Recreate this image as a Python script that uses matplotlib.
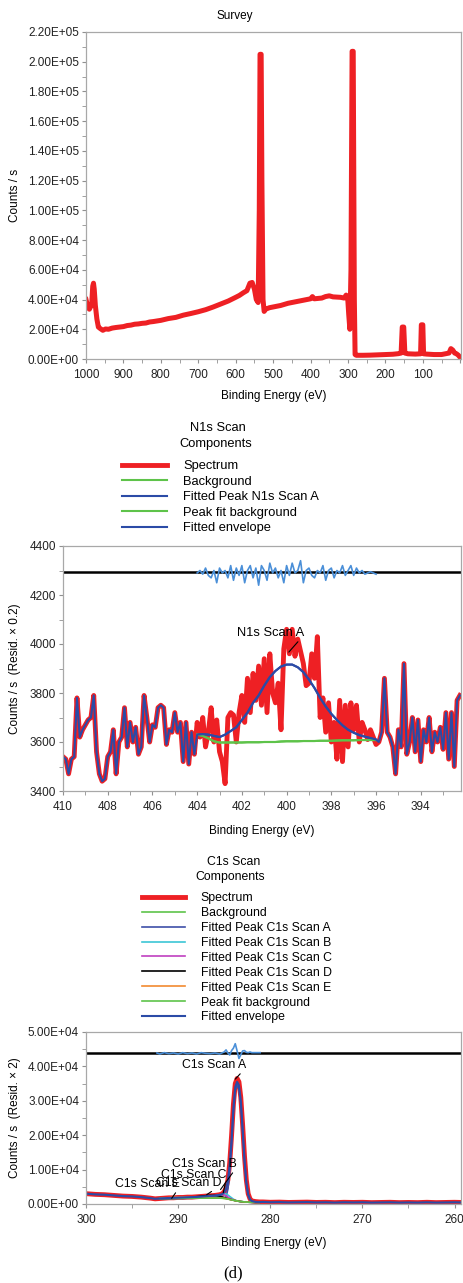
import matplotlib

matplotlib.use("Agg")
import matplotlib.pyplot as plt
import numpy as np
from matplotlib.ticker import MultipleLocator, FuncFormatter

plt.rcParams["font.family"] = ["Liberation Sans", "DejaVu Sans"]
plt.rcParams["font.size"] = 8.5

RED = "#ee2024"
GREEN = "#5ec34a"
ENV = "#2b4ba6"
RESID = "#4a8fd8"
CYAN = "#3cc6d6"
MAGENTA = "#c03fc0"
ORANGE = "#f28a30"

# ---------------- Survey ----------------
survey_be = [1000, 997, 994, 991, 988, 985, 982, 980, 978, 975, 971, 967, 962, 955, 948,
             940, 930, 920, 910, 900, 890, 880, 870, 860, 850, 840, 830, 820, 800, 780,
             760, 740, 720, 700, 680, 660, 640, 620, 600, 590, 580, 570, 562, 556, 550,
             545, 540, 537, 535, 532, 530, 527, 524, 520, 510, 500, 480, 460, 440, 420,
             400, 395, 390, 370, 360, 350, 340, 320, 310, 305, 301, 298, 295, 292, 289,
             286, 283, 281, 278, 260, 240, 220, 200, 180, 165, 158, 155, 151, 148, 140,
             120, 106, 104, 100, 98, 90, 70, 50, 40, 30, 25, 20, 15, 10, 5, 0, -2]
survey_cps = [40000, 37000, 34500, 33500, 35000, 36000, 49000, 51000, 47000, 36000, 27000,
              21500, 20500, 19300, 20200, 20000, 20800, 21200, 21500, 21800, 22500, 22800,
              23400, 23600, 24000, 24200, 24900, 25200, 26000, 27200, 28000, 29500, 30600,
              31800, 33200, 35000, 37000, 39000, 41500, 42800, 44500, 46000, 51000, 51500,
              47000, 40000, 38000, 100000, 205000, 205000, 120000, 40000, 32000, 33500,
              34500, 35000, 36000, 37500, 38500, 39500, 40500, 42000, 40500, 41000, 42000,
              42500, 41800, 41500, 41000, 43000, 42000, 30000, 20000, 60000, 207000,
              207000, 40000, 3000, 2500, 2500, 2600, 2800, 3000, 3200, 3600, 4000, 21500,
              21500, 4000, 3500, 3300, 3500, 23000, 23000, 3500, 3300, 3000, 3000, 3500,
              4000, 7000, 6000, 4000, 3500, 2500, 1000, 0]

# ---------------- N1s ----------------
n1s_cps = [3540, 3530, 3470, 3530, 3540, 3780, 3620, 3650, 3670, 3690,
           3700, 3790, 3560, 3470, 3440, 3450, 3540, 3560, 3650, 3470,
           3600, 3620, 3740, 3580, 3680, 3600, 3660, 3550, 3580, 3790,
           3700, 3600, 3670, 3660, 3740, 3750, 3740, 3590, 3650, 3640,
           3720, 3640, 3680, 3520, 3680, 3510, 3640, 3550, 3680,
           3620, 3700, 3580, 3640, 3740, 3600, 3690, 3560, 3520, 3430,
           3700, 3720, 3710, 3600, 3720, 3790, 3680, 3860, 3720, 3880,
           3770, 3910, 3750, 3940, 3720, 3960, 3800, 3760, 3840, 3650,
           3980, 4060, 3960, 4060, 3950, 4020, 3970, 3920, 3830, 3840,
           3960, 3860, 4030, 3700, 3780, 3640, 3760, 3600, 3680, 3530,
           3770, 3520, 3750, 3580, 3760, 3650, 3750, 3600, 3680, 3650,
           3610, 3650, 3620, 3590,
           3600, 3640, 3860, 3640, 3620, 3580, 3470, 3650, 3580, 3920,
           3550, 3600, 3700, 3560, 3690, 3520, 3650, 3600, 3700, 3560,
           3640, 3600, 3660, 3570, 3720, 3530, 3720, 3500, 3770, 3790]
n1s_be = np.linspace(410.0, 392.25, len(n1s_cps))

n1s_fit_be = [404.0, 403.75, 403.5, 403.25, 403.0, 402.75, 402.5, 402.25, 402.0, 401.75,
              401.5, 401.25, 401.0, 400.75, 400.5, 400.25, 400.0, 399.75, 399.5, 399.25,
              399.0, 398.75, 398.5, 398.25, 398.0, 397.75, 397.5, 397.25, 397.0, 396.75,
              396.5, 396.25, 396.0]
n1s_envelope = [3630, 3632, 3630, 3625, 3620, 3630, 3645, 3660, 3690, 3720,
                3760, 3790, 3830, 3865, 3890, 3908, 3916, 3916, 3905, 3885,
                3855, 3820, 3780, 3745, 3715, 3690, 3668, 3650, 3638, 3628,
                3622, 3616, 3610]
n1s_background = [3630, 3625, 3615, 3603, 3598, 3598, 3598, 3598, 3598, 3599,
                  3599, 3599, 3600, 3600, 3600, 3602, 3603, 3603, 3603, 3604,
                  3604, 3604, 3605, 3605, 3605, 3606, 3607, 3607, 3607, 3608,
                  3608, 3608, 3608]
n1s_resid = [4290, 4300, 4285, 4310, 4280, 4270, 4300, 4250, 4310, 4290,
             4300, 4270, 4320, 4260, 4310, 4280, 4320, 4250, 4300, 4320,
             4270, 4310, 4240, 4320, 4300, 4260, 4330, 4290, 4310, 4270,
             4300, 4250, 4320, 4280, 4330, 4290, 4300, 4340, 4250, 4300,
             4310, 4280, 4270, 4300, 4290, 4320, 4260, 4300, 4310, 4270,
             4300, 4290, 4320, 4280, 4300, 4320, 4280, 4310, 4290, 4300,
             4285, 4290, 4295, 4290, 4285]
n1s_resid_be = np.linspace(404.0, 396.0, len(n1s_resid))
n1s_resid_zero = 4292

# ---------------- C1s ----------------
c1s_be = [300, 299, 298, 297, 296, 295, 294, 293, 292.5, 292, 291.5, 291, 290.5, 290,
          289.5, 289, 288.5, 288, 287.5, 287, 286.5, 286, 285.5, 285.2, 285, 284.8,
          284.6, 284.4, 284.2, 284.0, 283.8, 283.6, 283.4, 283.2, 283.0, 282.8, 282.6,
          282.4, 282.2, 282.0, 281.6, 281.2, 280.8, 280, 279, 278, 277, 276, 275, 274,
          273, 272, 271, 270, 269, 268, 267, 266, 265, 264, 263, 262, 261, 260, 259.3]
c1s_cps = [3000, 2800, 2700, 2500, 2300, 2200, 2000, 1700, 1500, 1600, 1700, 1800, 1800,
           1900, 1900, 2000, 2000, 2100, 2200, 2300, 2400, 2500, 2700, 3000, 3600, 4600,
           7000, 12000, 20000, 29000, 35000, 36500, 35500, 31000, 23000, 14000, 7000,
           3000, 1500, 900, 700, 600, 600, 500, 550, 450, 500, 550, 450, 500, 400, 500,
           450, 500, 400, 450, 500, 400, 450, 400, 500, 400, 450, 500, 450]

c1s_fit_be = [292, 291.5, 291, 290.5, 290, 289.5, 289, 288.5, 288, 287.5, 287, 286.5, 286,
              285.5, 285.2, 285, 284.8, 284.6, 284.4, 284.2, 284, 283.8, 283.6, 283.4,
              283.2, 283, 282.8, 282.6, 282.4, 282.2, 282, 281.6, 281.2]
c1s_background = [1600, 1610, 1620, 1640, 1650, 1660, 1680, 1690, 1700, 1710, 1720, 1720,
                  1720, 1700, 1680, 1640, 1560, 1450, 1340, 1230, 1100, 980, 880, 790,
                  710, 650, 600, 560, 530, 510, 500, 490, 480]
c1s_peak_a = [1600, 1610, 1620, 1640, 1650, 1660, 1680, 1690, 1700, 1710, 1720, 1720, 1720,
              1700, 1690, 1700, 2100, 4300, 9000, 17000, 26500, 33000, 34500, 33500,
              29000, 21000, 12500, 6000, 2600, 1200, 700, 520, 480]
c1s_peak_b = [1600, 1610, 1620, 1640, 1650, 1660, 1680, 1690, 1700, 1720, 1760, 1850, 2000,
              2300, 2700, 2950, 2900, 2600, 2200, 1800, 1400, 1100, 900, 800, 710, 650,
              600, 560, 530, 510, 500, 490, 480]
c1s_peak_c = [1600, 1610, 1620, 1640, 1650, 1660, 1680, 1700, 1740, 1820, 1950, 2150, 2450,
              2700, 2720, 2650, 2400, 2000, 1650, 1400, 1200, 1000, 890, 790, 710, 650,
              600, 560, 530, 510, 500, 490, 480]
c1s_peak_d = [1600, 1610, 1630, 1660, 1700, 1760, 1850, 1970, 2120, 2280, 2420, 2500, 2480,
              2300, 2050, 1900, 1700, 1520, 1380, 1250, 1110, 985, 880, 790, 710, 650,
              600, 560, 530, 510, 500, 490, 480]
c1s_peak_e = [1650, 1750, 1850, 1950, 2000, 2020, 2010, 1980, 1930, 1870, 1810, 1770, 1740,
              1710, 1690, 1650, 1570, 1460, 1340, 1230, 1100, 980, 880, 790, 710, 650,
              600, 560, 530, 510, 500, 490, 480]
c1s_envelope = [1600, 1680, 1750, 1800, 1850, 1900, 1950, 2000, 2050, 2150, 2250, 2350,
                2450, 2650, 2900, 3400, 4400, 6800, 11500, 19000, 28000, 34000, 35500,
                34500, 30000, 22000, 13000, 6400, 2800, 1400, 850, 600, 550]
c1s_resid_be = [292.3, 292, 291.5, 291, 290.5, 290, 289.5, 289, 288.5, 288, 287.5, 287,
                286.5, 286, 285.5, 285, 284.8, 284.6, 284.4, 284.2, 284.0, 283.8, 283.6,
                283.4, 283.2, 283.0, 282.8, 282.6, 282.4, 282.2, 282.0, 281.6, 281.1]
c1s_resid = [43900, 43600, 44000, 43700, 43900, 43600, 44000, 43700, 43900, 43600, 44000,
             43800, 43700, 43900, 43600, 44200, 44800, 43900, 43300, 44600, 45300, 46600,
             44500, 42300, 43400, 44500, 44600, 44100, 44000, 44200, 44000, 44000, 44000]
c1s_resid_zero = 43800

W, H = 464, 1283
fig = plt.figure(figsize=(W / 100, H / 100), dpi=100)


def px_axes(left, top, right, bottom):
    return fig.add_axes([left / W, 1 - bottom / H, (right - left) / W, (bottom - top) / H])


def style(ax):
    for s in ax.spines.values():
        s.set_color("#a8a8a8")
        s.set_linewidth(0.9)
    ax.tick_params(which="both", direction="out", color="#909090", labelsize=8.5,
                   labelcolor="#222222")
    ax.tick_params(which="major", length=3)
    ax.tick_params(which="minor", length=3)
    ax.tick_params(axis="x", pad=4)
    ax.tick_params(axis="y", pad=2)


def ftext(x, y, s, **kw):
    fig.text(x / W, 1 - y / H, s, ha="center", va="center", **kw)


sci = FuncFormatter(lambda v, p: f"{v:.2E}")

# Survey panel
ax1 = px_axes(86, 32, 461, 359)
ax1.plot(survey_be, survey_cps, color=RED, lw=3.6, solid_joinstyle="round")
ax1.set_xlim(1000, -2)
ax1.set_ylim(0, 2.2e5)
ax1.xaxis.set_major_locator(MultipleLocator(100))
ax1.xaxis.set_minor_locator(MultipleLocator(50))
ax1.yaxis.set_major_locator(MultipleLocator(2e4))
ax1.yaxis.set_minor_locator(MultipleLocator(1e4))
ax1.xaxis.set_major_formatter(FuncFormatter(lambda v, p: f"{v:.0f}" if v >= 100 else ""))
ax1.yaxis.set_major_formatter(sci)
style(ax1)
ax1.set_xlabel("Binding Energy (eV)")
ax1.xaxis.set_label_coords(0.5, -0.095)
ax1.set_ylabel("Counts / s")
ax1.yaxis.set_label_coords(-0.173, 0.5)
ftext(235, 16, "Survey")

# N1s panel
ax2 = px_axes(63, 546, 461, 791)
left = n1s_be > 404.01
right = n1s_be < 395.99
n1s_cps_arr = np.array(n1s_cps)
h_spec, = ax2.plot(n1s_be, n1s_cps, color=RED, lw=3.5, label="Spectrum")
h_bg, = ax2.plot(n1s_fit_be, n1s_background, color=GREEN, lw=1.5, label="Background")
h_pk, = ax2.plot(n1s_fit_be, n1s_envelope, color=ENV, lw=1.5, label="Fitted Peak N1s Scan A")
h_pbg, = ax2.plot(n1s_fit_be, n1s_background, color=GREEN, lw=1.5, label="Peak fit background")
env_be = np.concatenate([n1s_be[left], n1s_fit_be, n1s_be[right]])
env_y = np.concatenate([n1s_cps_arr[left], n1s_envelope, n1s_cps_arr[right]])
h_env, = ax2.plot(env_be, env_y, color=ENV, lw=1.5, label="Fitted envelope")
ax2.axhline(n1s_resid_zero, color="black", lw=1.8)
ax2.plot(n1s_resid_be, n1s_resid, color=RESID, lw=1.2)
ax2.annotate("N1s Scan A", xy=(399.9, 3967), xytext=(400.7, 4045), ha="center",
             va="center", fontsize=9.3,
             arrowprops=dict(arrowstyle="-", color="black", lw=0.8, relpos=(1.0, 0.4),
                             shrinkA=0, shrinkB=0))
ax2.set_xlim(410, 392.2)
ax2.set_ylim(3400, 4400)
ax2.xaxis.set_major_locator(MultipleLocator(2))
ax2.xaxis.set_minor_locator(MultipleLocator(1))
ax2.yaxis.set_major_locator(MultipleLocator(200))
ax2.yaxis.set_minor_locator(MultipleLocator(100))
style(ax2)
ax2.set_xlabel("Binding Energy (eV)")
ax2.xaxis.set_label_coords(0.5, -0.139)
ax2.set_ylabel("Counts / s  (Resid. \u00d7 0.2)")
ax2.yaxis.set_label_coords(-0.1055, 0.5)
ftext(218, 428, "N1s Scan", fontsize=9.3)
ftext(216, 444, "Components", fontsize=9.3)
fig.legend(handles=[h_spec, h_bg, h_pk, h_pbg, h_env], loc="upper left",
           bbox_to_anchor=(122 / W, 1 - 460 / H), frameon=False, fontsize=9.3,
           handlelength=3.5, handletextpad=1.25, labelspacing=0.27, borderpad=0,
           borderaxespad=0)

# C1s panel
ax3 = px_axes(86, 1032, 461, 1204)
c_spec, = ax3.plot(c1s_be, c1s_cps, color=RED, lw=3.5, label="Spectrum")
c_bg, = ax3.plot(c1s_fit_be, c1s_background, color=GREEN, lw=1.2, label="Background")
c_a, = ax3.plot(c1s_fit_be, c1s_peak_a, color="#3e4fa8", lw=1.2, label="Fitted Peak C1s Scan A")
c_b, = ax3.plot(c1s_fit_be, c1s_peak_b, color=CYAN, lw=1.2, label="Fitted Peak C1s Scan B")
c_c, = ax3.plot(c1s_fit_be, c1s_peak_c, color=MAGENTA, lw=1.2, label="Fitted Peak C1s Scan C")
c_d, = ax3.plot(c1s_fit_be, c1s_peak_d, color="black", lw=1.2, label="Fitted Peak C1s Scan D")
c_e, = ax3.plot(c1s_fit_be, c1s_peak_e, color=ORANGE, lw=1.2, label="Fitted Peak C1s Scan E")
c_pbg, = ax3.plot(c1s_fit_be, c1s_background, color=GREEN, lw=1.2, label="Peak fit background")
c1s_be_arr = np.array(c1s_be)
c1s_cps_arr = np.array(c1s_cps)
cl = c1s_be_arr > 292.01
cr = c1s_be_arr < 281.19
cenv_be = np.concatenate([c1s_be_arr[cl], c1s_fit_be, c1s_be_arr[cr]])
cenv_y = np.concatenate([c1s_cps_arr[cl], c1s_envelope, c1s_cps_arr[cr]])
c_env, = ax3.plot(cenv_be, cenv_y, color=ENV, lw=1.5, label="Fitted envelope")
ax3.axhline(c1s_resid_zero, color="black", lw=1.8)
ax3.plot(c1s_resid_be, c1s_resid, color=RESID, lw=1.2)
arrow = dict(arrowstyle="-", color="black", lw=0.8, relpos=(1.0, 0.3), shrinkA=0, shrinkB=0)
for name, peak, lab in [("C1s Scan A", (283.8, 36300), (286.1, 40400)),
                        ("C1s Scan B", (285.4, 4200), (287.1, 11600)),
                        ("C1s Scan C", (285.1, 3300), (288.3, 8400)),
                        ("C1s Scan D", (286.9, 2700), (288.9, 6200)),
                        ("C1s Scan E", (290.7, 1650), (293.3, 5800))]:
    ax3.annotate(name, xy=peak, xytext=lab, ha="center", va="center", fontsize=8.8,
                 arrowprops=arrow)
ax3.set_xlim(300, 259.3)
ax3.set_ylim(0, 5e4)
ax3.xaxis.set_major_locator(MultipleLocator(10))
ax3.xaxis.set_minor_locator(MultipleLocator(5))
ax3.yaxis.set_major_locator(MultipleLocator(1e4))
ax3.yaxis.set_minor_locator(MultipleLocator(5e3))
ax3.yaxis.set_major_formatter(sci)
style(ax3)
ax3.set_xlabel("Binding Energy (eV)")
ax3.xaxis.set_label_coords(0.5, -0.192)
ax3.set_ylabel("Counts / s  (Resid. \u00d7 2)")
ax3.yaxis.set_label_coords(-0.173, 0.5)
ftext(234, 862, "C1s Scan", fontsize=8.8)
ftext(230, 877, "Components", fontsize=8.8)
fig.legend(handles=[c_spec, c_bg, c_a, c_b, c_c, c_d, c_e, c_pbg, c_env],
           loc="upper left", bbox_to_anchor=(142 / W, 1 - 892 / H), frameon=False,
           fontsize=8.8, handlelength=3.5, handletextpad=1.3, labelspacing=0.24,
           borderpad=0, borderaxespad=0)

ftext(233, 1273, "(d)", fontsize=12, family=["Liberation Serif", "DejaVu Serif"])

fig.savefig("out.png", dpi=100)
